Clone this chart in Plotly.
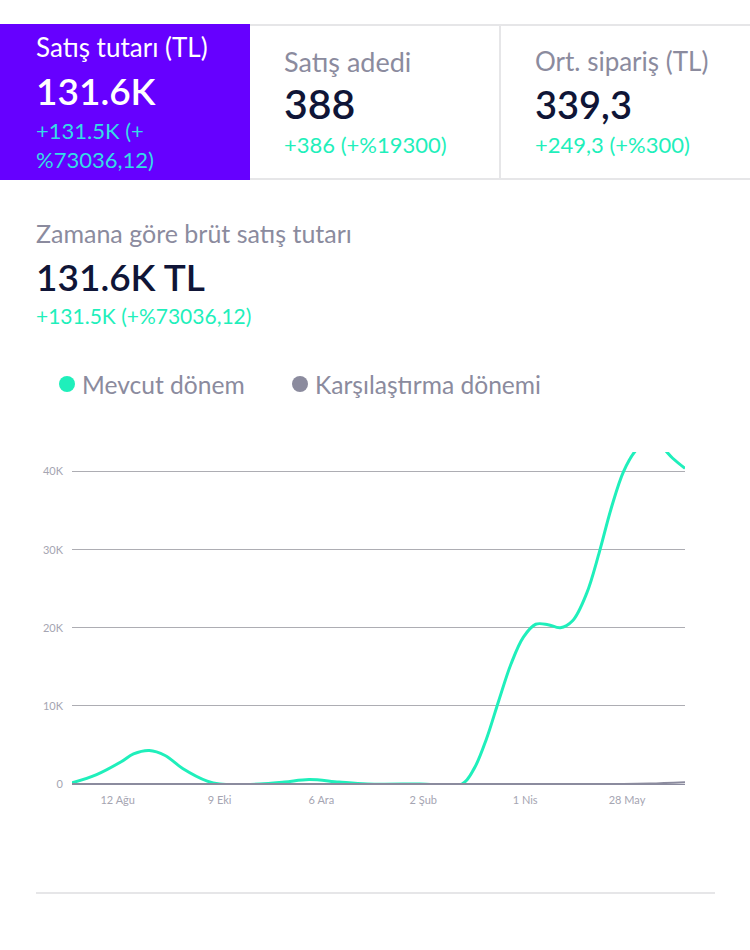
import plotly.graph_objects as go

WIDTH = 750
HEIGHT = 950
LEFT, RIGHT, TOP, BOTTOM = 72, 685, 452, 784

FONT = 'Lato'
PURPLE = '#6600ff'
TEAL = '#1fefbb'
GREY = '#8b8b9e'
DARK = '#0f1537'
BORDER = '#e6e6e8'

# values
current_dates = ['2022-07-17', '2022-07-31', '2022-08-14', '2022-08-21', '2022-08-30', '2022-09-08',
                 '2022-09-18', '2022-10-02', '2022-10-09', '2022-11-01', '2022-11-15', '2022-11-29',
                 '2022-12-16', '2023-01-01', '2023-01-31', '2023-02-24', '2023-03-03', '2023-03-10',
                 '2023-03-17', '2023-03-24', '2023-03-31', '2023-04-07', '2023-04-14', '2023-04-21',
                 '2023-04-28', '2023-05-06', '2023-05-13', '2023-05-20', '2023-05-27', '2023-06-03',
                 '2023-06-10', '2023-06-17', '2023-06-24', '2023-07-01']
current_values = [150, 1200, 2850, 3850, 4290, 3650,
                  1980, 360, 0, 0, 250, 580,
                  250, 0, 0, 0, 2000, 5800,
                  10700, 15400, 18800, 20450, 20400, 20000,
                  20900, 24400, 29500, 35300, 40000, 42700,
                  44000, 43300, 41700, 40400]
compare_dates = ['2022-07-17', '2023-01-01', '2023-05-27', '2023-06-11', '2023-07-01']
compare_values = [0, 0, 0, 60, 230]

tick_dates = ['2022-08-12', '2022-10-09', '2022-12-06', '2023-02-02', '2023-04-01', '2023-05-29']
tick_labels = ['12 Ağu', '9 Eki', '6 Ara', '2 Şub', '1 Nis', '28 May']
y_ticks = [0, 10000, 20000, 30000, 40000]
y_labels = ['0', '10K', '20K', '30K', '40K']

cards = [
    {'label': 'Satış tutarı (TL)', 'value': '131.6K', 'delta': '+131.5K (+<br>%73036,12)'},
    {'label': 'Satış adedi', 'value': '388', 'delta': '+386 (+%19300)'},
    {'label': 'Ort. sipariş (TL)', 'value': '339,3', 'delta': '+249,3 (+%300)'},
]
section_title = 'Zamana göre brüt satış tutarı'
section_value = '131.6K TL'
section_delta = '+131.5K (+%73036,12)'
legend_names = ['Mevcut dönem', 'Karşılaştırma dönemi']


def px_x(x):
    return (x - LEFT) / (RIGHT - LEFT)


def px_y(y):
    return (BOTTOM - y) / (BOTTOM - TOP)


def add_text(fig, text, x, y, size, color, weight=400):
    fig.add_annotation(text=text, x=px_x(x), y=px_y(y), xref='paper', yref='paper',
                       xanchor='left', yanchor='middle', align='left', showarrow=False,
                       borderpad=0, borderwidth=0,
                       font=dict(family=FONT, size=size, color=color, weight=weight))


def add_rule(fig, x0, y0, x1, y1, color=BORDER, width=2):
    fig.add_shape(type='line', x0=px_x(x0), x1=px_x(x1), y0=px_y(y0), y1=px_y(y1),
                  xref='paper', yref='paper', line=dict(color=color, width=width))


fig = go.Figure()
fig.add_trace(go.Scatter(x=current_dates, y=current_values, mode='lines', name=legend_names[0],
                         line=dict(color=TEAL, width=3, shape='spline', smoothing=1.0)))
fig.add_trace(go.Scatter(x=compare_dates, y=compare_values, mode='lines', name=legend_names[1],
                         line=dict(color=GREY, width=2, shape='spline')))

# cards across the top
fig.add_shape(type='rect', x0=px_x(0), x1=px_x(250), y0=px_y(24), y1=px_y(180),
              xref='paper', yref='paper', fillcolor=PURPLE, line_width=0)
add_rule(fig, 250, 25, 750, 25)
add_rule(fig, 250, 179, 750, 179)
add_rule(fig, 500, 24, 500, 180)

add_text(fig, cards[0]['label'], 36, 47, 26, 'white')
add_text(fig, cards[0]['value'], 36, 90, 37, 'white', 600)
add_text(fig, cards[0]['delta'], 36, 145, 22, '#35dce6')
add_text(fig, cards[1]['label'], 284, 61, 27, GREY)
add_text(fig, cards[1]['value'], 284, 104, 41, DARK, 600)
add_text(fig, cards[1]['delta'], 284, 144, 22, TEAL)
add_text(fig, cards[2]['label'], 535, 61, 26, GREY)
add_text(fig, cards[2]['value'], 535, 104, 38, DARK, 600)
add_text(fig, cards[2]['delta'], 535, 144, 22, TEAL)

add_text(fig, section_title, 36, 233, 25, GREY)
add_text(fig, section_value, 36, 276, 37, DARK, 600)
add_text(fig, section_delta, 36, 315, 21, TEAL)

# legend
for cx, color, name, tx in [(67, TEAL, legend_names[0], 82), (300, GREY, legend_names[1], 315)]:
    fig.add_shape(type='circle', x0=px_x(cx - 8), x1=px_x(cx + 8), y0=px_y(392), y1=px_y(376),
                  xref='paper', yref='paper', fillcolor=color, line_width=0)
    add_text(fig, name, tx, 384, 24.6, GREY)

add_rule(fig, 36, 893, 715, 893)

fig.update_layout(
    width=WIDTH, height=HEIGHT, autosize=False,
    margin=dict(l=LEFT, r=WIDTH - RIGHT, t=TOP, b=HEIGHT - BOTTOM, pad=0),
    paper_bgcolor='white', plot_bgcolor='white', showlegend=False,
    font=dict(family=FONT),
)
fig.update_xaxes(type='date', range=['2022-07-17', '2023-07-01'], tickmode='array',
                 tickvals=tick_dates, ticktext=tick_labels, showgrid=False, zeroline=False,
                 showline=False, ticks='', ticklabelstandoff=8,
                 tickfont=dict(family=FONT, size=11, color='#a5a5b2'))
fig.update_yaxes(range=[0, 42500], tickmode='array', tickvals=y_ticks, ticktext=y_labels,
                 showgrid=True, gridcolor='#adadb3', gridwidth=1, zeroline=True,
                 zerolinecolor='#8b8b9e', zerolinewidth=1, showline=False, ticks='',
                 ticklabelstandoff=8, tickfont=dict(family=FONT, size=11, color='#a5a5b2'))

# the page's default body margin would shift the 750 wide figure
fig.write_html('out.html', config={'displayModeBar': False},
               post_script="document.body.style.margin = '0';")
